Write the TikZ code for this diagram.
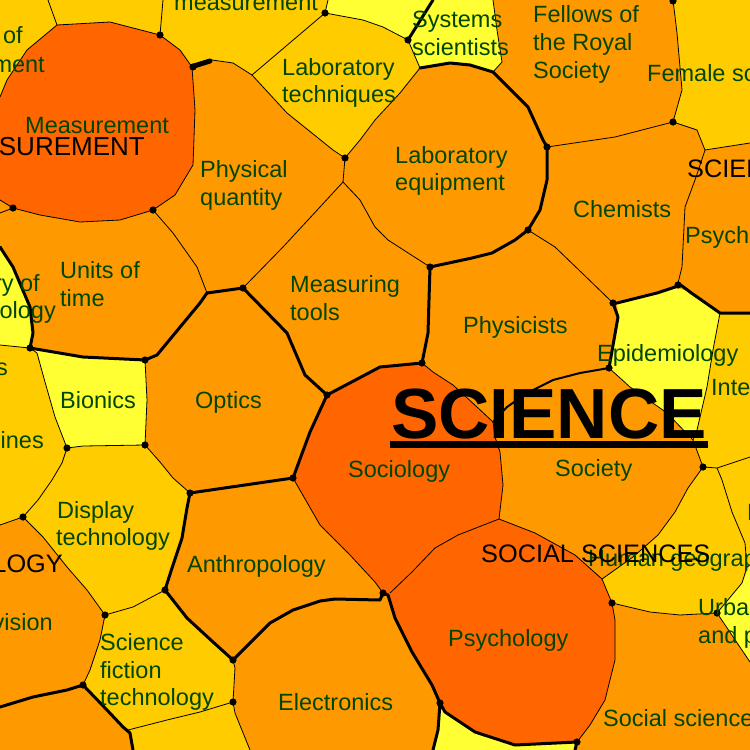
\documentclass[tikz,border=0pt]{standalone}
\usepackage{fontspec}
\setmainfont{Liberation Sans}
\definecolor{dorange}{RGB}{255,102,0}
\definecolor{morange}{RGB}{255,153,0}
\definecolor{gold}{RGB}{255,204,0}
\definecolor{lyellow}{RGB}{255,255,51}
\definecolor{txtgreen}{RGB}{0,70,0}
\tikzset{
  tn/.style={draw=black, line width=0.8pt, line join=round, line cap=round},
  md/.style={draw=black, line width=2pt, line join=round, line cap=round},
  tk/.style={draw=black, line width=3pt, line join=round, line cap=round},
  lbl/.style={font=\fontsize{23.5}{28}\selectfont, text=txtgreen, inner sep=0pt, anchor=base west},
  lble/.style={lbl, anchor=base east},
  cat/.style={font=\fontsize{25.3}{30}\selectfont, text=black, inner sep=0pt, anchor=base west},
  cate/.style={cat, anchor=base east},
  blob/.style={fill=black}
}
\begin{document}
\begin{tikzpicture}[x=1pt,y=-1pt]
\useasboundingbox (0,0) rectangle (750,750);
\clip (0,0) rectangle (750,750);
% background (orange regions)
\fill[morange] (0,0) rectangle (750,750);
% gold regions
\fill[gold] (0,0) -- (48,0) -- (57,25) -- (27,50) -- (7,80) -- (0,97) -- cycle;
\fill[gold] (48,0) -- (163,0) -- (160,35) -- (110,22) -- (57,25) -- cycle;
\fill[gold] (163,0) -- (328,0) -- (325,13) -- (252,75) -- (233,63) -- (212,60) -- (192,67) -- (180,50) -- (160,35) -- cycle;
\fill[gold] (252,75) -- (325,13) -- (363,20) -- (383,27) -- (408,40) -- (420,68) -- (400,93) -- (375,120) -- (360,140) -- (345,158) -- (333,150) -- (287,113) -- cycle;
\fill[gold] (673,0) -- (750,0) -- (750,143) -- (705,150) -- (697,130) -- (673,122) -- (682,90) -- (677,33) -- cycle;
\fill[gold] (720,313) -- (750,313) -- (750,457) -- (717,468) -- (703,467) -- (693,440) -- (697,430) -- (707,387) -- (713,350) -- cycle;
\fill[gold] (703,467) -- (717,468) -- (750,457) -- (750,565) -- (742,583) -- (717,613) -- (680,615) -- (650,612) -- (612,603) -- (602,579) -- (633,557) -- (658,535) -- (675,512) -- (688,488) -- cycle;
\fill[gold] (0,345) -- (30,348) -- (37,353) -- (45,382) -- (55,417) -- (67,448) -- (62,463) -- (52,480) -- (38,500) -- (23,517) -- (0,525) -- cycle;
\fill[gold] (67,448) -- (83,446) -- (145,445) -- (160,462) -- (173,478) -- (190,493) -- (187,508) -- (182,538) -- (172,568) -- (165,590) -- (133,607) -- (105,615) -- (87,590) -- (67,567) -- (43,537) -- (23,517) -- (38,500) -- (52,480) -- (62,463) -- cycle;
\fill[gold] (105,615) -- (133,607) -- (165,590) -- (187,618) -- (213,642) -- (233,660) -- (235,668) -- (233,702) -- (200,712) -- (167,720) -- (128,730) -- (107,710) -- (87,690) -- (83,685) -- (90,670) -- (100,640) -- cycle;
\fill[gold] (128,730) -- (167,720) -- (200,712) -- (233,702) -- (235,713) -- (250,750) -- (133,750) -- (130,733) -- cycle;
% yellow regions
\fill[lyellow] (328,0) -- (433,0) -- (408,40) -- (383,27) -- (363,20) -- (325,13) -- cycle;
\fill[lyellow] (433,0) -- (493,0) -- (497,30) -- (502,62) -- (493,72) -- (470,65) -- (450,63) -- (420,68) -- (408,40) -- cycle;
\fill[lyellow] (617,303) -- (657,293) -- (678,288) -- (690,292) -- (720,313) -- (713,350) -- (707,387) -- (697,430) -- (693,440) -- (667,413) -- (630,387) -- (609,368) -- (618,317) -- cycle;
\fill[lyellow] (0,247) -- (13,267) -- (30,307) -- (33,333) -- (30,348) -- (0,345) -- cycle;
\fill[lyellow] (30,348) -- (83,357) -- (145,360) -- (147,400) -- (145,445) -- (83,446) -- (67,448) -- (55,417) -- (45,382) -- (37,353) -- cycle;
\fill[lyellow] (750,565) -- (742,583) -- (717,613) -- (750,662) -- cycle;
\fill[lyellow] (440,703) -- (445,712) -- (475,732) -- (515,745) -- (577,742) -- (575,750) -- (433,750) -- (438,730) -- cycle;
% dark orange regions
\fill[dorange] (0,97) -- (7,80) -- (27,50) -- (57,25) -- (110,22) -- (160,35) -- (180,50) -- (192,67) -- (195,110) -- (193,165) -- (175,195) -- (153,210) -- (120,220) -- (80,222) -- (40,215) -- (13,208) -- (0,200) -- cycle;
\fill[dorange] (327,395) -- (380,367) -- (422,363) -- (433,372) -- (453,385) -- (477,407) -- (493,422) -- (495,437) -- (500,452) -- (503,485) -- (499,519) -- (458,535) -- (435,548) -- (412,572) -- (390,593) -- (383,593) -- (375,582) -- (350,555) -- (320,525) -- (293,478) -- (310,432) -- cycle;
\fill[dorange] (390,593) -- (412,572) -- (435,548) -- (458,535) -- (499,519) -- (535,533) -- (575,555) -- (602,579) -- (612,603) -- (615,620) -- (615,660) -- (605,700) -- (590,725) -- (577,742) -- (515,745) -- (475,732) -- (445,712) -- (440,703) -- (432,685) -- (412,652) -- (395,618) -- (388,595) -- cycle;
% thin edges
\draw[tn] (48,0) -- (57,25);
\draw[tn] (0,97) -- (7,80) -- (27,50) -- (57,25) -- (110,22) -- (160,35) -- (163,0);
\draw[tn] (160,35) -- (180,50) -- (192,67);
\draw[tn] (212,60) -- (233,63) -- (252,75) -- (325,13) -- (328,0);
\draw[tn] (325,13) -- (363,20) -- (383,27) -- (408,40) -- (420,68);
\draw[tn] (493,72) -- (502,62) -- (497,30) -- (493,0);
\draw[tn] (547,147) -- (615,137) -- (642,130) -- (673,122);
\draw[tn] (673,0) -- (677,33) -- (682,90) -- (673,122) -- (697,130) -- (705,150) -- (750,143);
\draw[tn] (705,150) -- (695,180) -- (685,207) -- (682,267) -- (678,283);
\draw[tn] (528,230) -- (555,247) -- (582,273) -- (613,303);
\draw[tn] (609,368) -- (630,387) -- (667,413) -- (693,440);
\draw[tn] (720,313) -- (713,350) -- (707,387) -- (697,430) -- (693,440) -- (703,467) -- (717,468) -- (750,457);
\draw[tn] (717,468) -- (722,480) -- (732,512) -- (745,543) -- (747,567) -- (742,583) -- (717,613) -- (750,662);
\draw[tn] (747,567) -- (750,565);
\draw[tn] (703,467) -- (688,488) -- (675,512) -- (658,535) -- (633,557) -- (602,579) -- (612,603);
\draw[tn] (612,603) -- (650,612) -- (680,615) -- (717,613);
\draw[tn] (499,519) -- (535,533) -- (575,555) -- (602,579);
\draw[tn] (612,603) -- (615,620) -- (615,660) -- (605,700) -- (590,725) -- (577,742);
\draw[tn] (390,593) -- (412,572) -- (435,548) -- (458,535) -- (499,519);
\draw[tn] (422,363) -- (433,372) -- (453,385) -- (477,407) -- (493,422) -- (495,437) -- (500,452) -- (503,485) -- (499,519);
\draw[tn] (430,267) -- (388,240) -- (375,227) -- (360,200) -- (343,182) -- (345,158);
\draw[tn] (345,158) -- (360,140) -- (375,120) -- (400,93) -- (420,68);
\draw[tn] (252,75) -- (287,113) -- (333,150) -- (345,158);
\draw[tn] (343,182) -- (320,207) -- (283,247) -- (243,288);
\draw[tn] (293,478) -- (320,525) -- (350,555) -- (375,582) -- (383,593);
\draw[tn] (192,67) -- (195,110) -- (193,165) -- (175,195) -- (153,210) -- (120,220) -- (80,222) -- (40,215) -- (13,208) -- (0,200);
\draw[tn] (13,208) -- (0,213);
\draw[tn] (153,210) -- (173,233) -- (197,267) -- (207,293);
\draw[tn] (0,345) -- (30,348) -- (37,353) -- (45,382) -- (55,417) -- (67,448);
\draw[tn] (145,360) -- (147,400) -- (145,445) -- (83,446) -- (67,448);
\draw[tn] (145,445) -- (160,462) -- (173,478) -- (190,493);
\draw[tn] (67,448) -- (62,463) -- (52,480) -- (38,500) -- (23,517) -- (0,525);
\draw[tn] (23,517) -- (43,537) -- (67,567) -- (87,590) -- (105,615) -- (133,607) -- (165,590);
\draw[tn] (233,660) -- (235,668) -- (233,702) -- (200,712) -- (167,720) -- (128,730);
\draw[tn] (233,702) -- (235,713) -- (250,750);
\draw[tn] (105,615) -- (100,640) -- (90,670) -- (83,685);
% medium edges
\draw[md] (609,368) -- (580,373) -- (553,380) -- (527,393) -- (507,407) -- (493,422);
% thick edges
\draw[tk, line width=5pt] (194,66) -- (210,61);
\draw[tk] (408,40) -- (433,0);
\draw[tk] (420,68) -- (450,63) -- (470,65) -- (493,72) -- (528,107) -- (543,140) -- (547,147) -- (547,180) -- (540,210) -- (528,230);
\draw[tk] (678,283) -- (690,292) -- (720,313) -- (750,313);
\draw[tk] (613,303) -- (617,303) -- (657,293) -- (678,286);
\draw[tk] (613,303) -- (618,317) -- (609,368);
\draw[tk] (577,742) -- (575,750);
\draw[tk] (577,742) -- (515,745) -- (475,732) -- (445,712) -- (440,703) -- (438,730) -- (433,750);
\draw[tk] (383,593) -- (388,595) -- (395,618) -- (412,652) -- (432,685) -- (440,703);
\draw[tk] (422,363) -- (428,333) -- (430,267) -- (472,258) -- (492,253) -- (515,240) -- (528,230);
\draw[tk] (207,293) -- (243,288) -- (287,333) -- (305,375) -- (327,395) -- (380,367) -- (422,363);
\draw[tk] (327,395) -- (310,432) -- (293,478) -- (190,493);
\draw[tk] (207,293) -- (200,303) -- (157,355) -- (145,360) -- (83,357) -- (30,348);
\draw[tk] (0,247) -- (13,267) -- (30,307) -- (33,333) -- (30,348);
\draw[tk] (190,493) -- (187,508) -- (182,538) -- (172,568) -- (165,590) -- (187,618) -- (213,642) -- (233,660);
\draw[tk] (233,660) -- (253,640) -- (270,623) -- (293,610) -- (320,601) -- (335,599) -- (380,600) -- (383,593);
\draw[tk] (83,685) -- (67,690) -- (33,697) -- (0,707);
\draw[tk] (83,685) -- (107,710) -- (123,727) -- (130,733) -- (133,750);
% junction blobs
\foreach \p in {(160,35),(193,67),(153,210),(13,208),(345,158),(325,13),(408,40),(547,147),(528,230),(673,122),(678,285),(613,303),(609,368),(243,288),(703,467),(612,603),(577,742),(383,593),(440,703),(190,493),(165,590),(67,448),(23,517),(83,685),(233,702),(233,660),(673,1),(422,363),(430,267),(327,395),(293,478),(145,360),(145,445),(30,348),(717,613),(105,615)}
  \fill[blob] \p circle (3.6pt);
% green labels
\node[lbl] (t1) at (174,10) {measurement};
\node[lble] (t2a) at (23,43) {History of};
\node[lble] (t2b) at (45,72) {measurement};
\node[lbl] (t3) at (25,133) {Measurement};
\node[lbl] (t4a) at (200,177) {Physical};
\node[lbl] (t4b) at (200,205) {quantity};
\node[lbl] (t5a) at (282,75) {Laboratory};
\node[lbl] (t5b) at (282,102) {techniques};
\node[lbl] (t6a) at (412,27) {Systems};
\node[lbl] (t6b) at (412,55) {scientists};
\node[lbl] (t7a) at (533,22) {Fellows of};
\node[lbl] (t7b) at (533,50) {the Royal};
\node[lbl] (t7c) at (533,78) {Society};
\node[lbl] (t8) at (647,81) {Female scientists};
\node[lbl] (t9a) at (395,163) {Laboratory};
\node[lbl] (t9b) at (395,190) {equipment};
\node[lbl] (t10) at (573,217) {Chemists};
\node[lbl] (t11) at (685,243) {Psychologists};
\node[lbl] (t12a) at (60,278) {Units of};
\node[lbl] (t12b) at (60,306) {time};
\node[lble] (t13a) at (40,291) {History of};
\node[lble] (t13b) at (56,318) {technology};
\node[lbl] (t14a) at (290,292) {Measuring};
\node[lbl] (t14b) at (290,320) {tools};
\node[lbl] (t15) at (463,333) {Physicists};
\node[lbl] (t16) at (597,361) {Epidemiology};
\node[lbl] (t17) at (711,395) {Interdisciplinary};
\node[lbl] (t18) at (60,408) {Bionics};
\node[lbl] (t19) at (195,408) {Optics};
\node[lble] (t20) at (8,375) {Robots};
\node[lble] (t21) at (44,448) {Machines};
\node[lbl] (t22) at (348,477) {Sociology};
\node[lbl] (t23) at (555,476) {Society};
\node[lbl] (t24a) at (57,518) {Display};
\node[lbl] (t24b) at (56,545) {technology};
\node[lbl] (t25) at (187,572) {Anthropology};
\node[lble] (t26) at (53,630) {Television};
\node[lbl] (t27a) at (100,650) {Science};
\node[lbl] (t27b) at (100,678) {fiction};
\node[lbl] (t27c) at (100,705) {technology};
\node[lbl] (t28) at (278,710) {Electronics};
\node[lbl] (t29) at (448,646) {Psychology};
\node[lbl] (t30) at (588,566) {Human geography};
\node[lbl] (t31a) at (698,615) {Urban studies};
\node[lbl] (t31b) at (698,643) {and planning};
\node[lbl] (t32) at (747,520) {Political science};
\node[lbl] (t33) at (603,726) {Social sciences};
% category labels
\node[cate, font=\fontsize{26}{30}\selectfont] (c1) at (145,155) {MEASUREMENT};
\node[cat] (c2) at (687,177) {SCIENCE};
\node[cat] (c3) at (481,562) {SOCIAL SCIENCES};
\node[cate] (c4) at (63,572) {TECHNOLOGY};
\node[inner sep=0pt, anchor=base west, font=\fontsize{71}{80}\selectfont\bfseries] (big) at (391,438) {SCIENCE};
\fill[black] (390,441) rectangle (708,448);
\end{tikzpicture}
\end{document}
